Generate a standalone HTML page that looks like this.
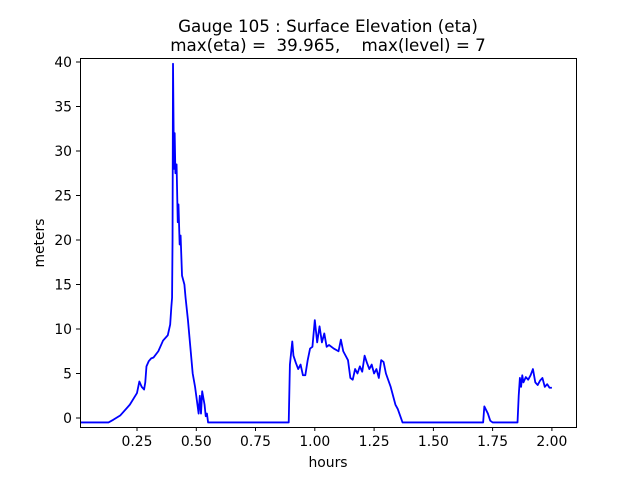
<!DOCTYPE html>
<html><head><meta charset="utf-8"><style>
body{margin:0;background:#fff}
svg{display:block;font-family:"DejaVu Sans","Liberation Sans",sans-serif}
</style></head><body>
<svg width="640" height="480" viewBox="0 0 640 480" xmlns="http://www.w3.org/2000/svg">
<rect width="640" height="480" fill="#fff"/>
<g transform="translate(77.7,418) scale(237.1,-8.9)">
<polyline fill="none" stroke="#0000ff" stroke-width="1.8" vector-effect="non-scaling-stroke" stroke-linejoin="round" points="0.01,-0.5 0.13,-0.5 0.15,-0.2 0.18,0.3 0.22,1.5 0.25,2.8 0.26,4.1 0.27,3.5 0.28,3.2 0.285,4 0.29,5.8 0.3,6.4 0.31,6.7 0.32,6.8 0.34,7.5 0.36,8.7 0.38,9.3 0.39,10.5 0.395,12.5 0.398,13.5 0.40,20 0.402,39.8 0.406,28 0.409,32 0.412,27.5 0.417,28.5 0.422,22 0.425,24 0.43,19.5 0.434,20.5 0.44,16 0.45,15 0.455,13.5 0.465,11 0.475,8 0.485,5 0.495,3.5 0.505,1.5 0.51,0.5 0.515,2.5 0.52,0.5 0.525,3 0.535,1.5 0.54,0.2 0.545,0.5 0.55,-0.5 0.89,-0.5 0.895,6 0.905,8.6 0.91,7 0.92,6.2 0.93,5.5 0.94,6 0.95,4.8 0.96,4.8 0.97,6.5 0.98,7.8 0.99,8 1.0,11 1.01,8.5 1.02,10.3 1.03,8.5 1.04,9.5 1.05,8 1.06,8.2 1.08,7.8 1.1,7.5 1.11,8.8 1.12,7.5 1.14,6.5 1.15,4.5 1.16,4.3 1.17,5.5 1.18,5 1.19,5.8 1.2,5.2 1.21,7 1.22,6.2 1.23,5.5 1.24,6 1.25,5 1.26,5.5 1.27,4.5 1.28,6.5 1.29,6.3 1.3,5 1.32,3.5 1.34,1.5 1.35,1 1.37,-0.5 1.71,-0.5 1.715,1.3 1.73,0.5 1.74,-0.3 1.75,-0.5 1.855,-0.5 1.86,2.5 1.865,4.5 1.87,3.5 1.875,4.8 1.88,4 1.89,4.6 1.9,4.3 1.91,4.8 1.92,5.5 1.93,4 1.94,3.7 1.95,4.2 1.96,4.5 1.97,3.5 1.98,3.8 1.99,3.4 2.0,3.4"/>
</g>
<rect x="80.5" y="58.5" width="496" height="369" fill="none" stroke="#000" stroke-width="1"/>
<g stroke="#000" stroke-width="1">
<line x1="137" y1="427" x2="137" y2="431"/><line x1="196.3" y1="427" x2="196.3" y2="431"/><line x1="255.5" y1="427" x2="255.5" y2="431"/><line x1="314.8" y1="427" x2="314.8" y2="431"/><line x1="374.1" y1="427" x2="374.1" y2="431"/><line x1="433.4" y1="427" x2="433.4" y2="431"/><line x1="492.6" y1="427" x2="492.6" y2="431"/><line x1="551.9" y1="427" x2="551.9" y2="431"/>
<line x1="76" y1="418" x2="80" y2="418"/><line x1="76" y1="373.5" x2="80" y2="373.5"/><line x1="76" y1="329" x2="80" y2="329"/><line x1="76" y1="284.5" x2="80" y2="284.5"/><line x1="76" y1="240" x2="80" y2="240"/><line x1="76" y1="195.5" x2="80" y2="195.5"/><line x1="76" y1="151" x2="80" y2="151"/><line x1="76" y1="106.5" x2="80" y2="106.5"/><line x1="76" y1="62" x2="80" y2="62"/>
</g>
<g font-size="13.9" fill="#000" text-anchor="middle">
<text x="137" y="446">0.25</text><text x="196.3" y="446">0.50</text><text x="255.5" y="446">0.75</text><text x="314.8" y="446">1.00</text><text x="374.1" y="446">1.25</text><text x="433.4" y="446">1.50</text><text x="492.6" y="446">1.75</text><text x="551.9" y="446">2.00</text>
</g>
<g font-size="13.9" fill="#000" text-anchor="end">
<text x="72" y="423">0</text><text x="72" y="378.5">5</text><text x="72" y="334">10</text><text x="72" y="289.5">15</text><text x="72" y="245">20</text><text x="72" y="200.5">25</text><text x="72" y="156">30</text><text x="72" y="111.5">35</text><text x="72" y="67">40</text>
</g>
<text x="328" y="467" font-size="13.9" text-anchor="middle">hours</text>
<text transform="translate(44,243) rotate(-90)" font-size="13.9" text-anchor="middle">meters</text>
<text x="328" y="32" font-size="16.7" text-anchor="middle">Gauge 105 : Surface Elevation (eta)</text>
<text x="328" y="51" font-size="16.7" text-anchor="middle" xml:space="preserve">max(eta) =  39.965,    max(level) = 7</text>
</svg>
</body></html>
